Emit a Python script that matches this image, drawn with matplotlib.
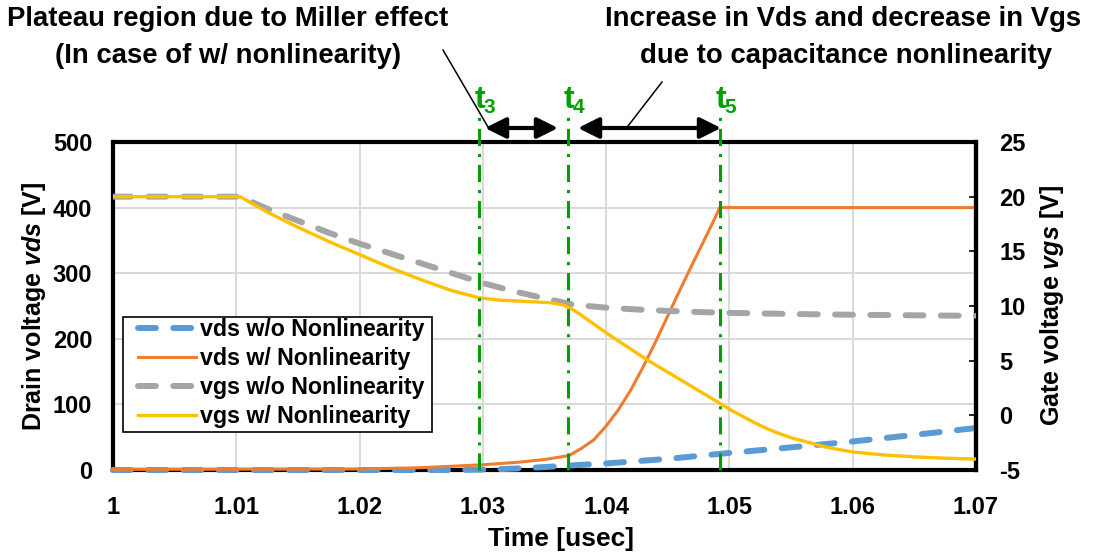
import matplotlib
matplotlib.use("Agg")
import matplotlib.pyplot as plt
import matplotlib.transforms as mtransforms
from matplotlib.lines import Line2D
from matplotlib.patches import FancyArrowPatch, Rectangle

plt.rcParams["font.family"] = ["Liberation Sans", "DejaVu Sans"]
plt.rcParams["font.weight"] = "bold"
plt.rcParams["axes.unicode_minus"] = False
plt.rcParams["mathtext.fontset"] = "custom"
plt.rcParams["mathtext.bfit"] = "Liberation Sans:bold:italic"

# ---- switching waveforms (time in usec) ----
t_vds_wo = [1.000, 1.028, 1.031, 1.033, 1.035, 1.037, 1.040, 1.045, 1.050,
            1.055, 1.060, 1.065, 1.070]
vds_wo = [0.0, 0.0, 1.0, 2.5, 4.5, 6.8, 10.0, 17.0, 26.0,
          34.5, 43.5, 53.5, 64.0]

t_vds_w = [1.000, 1.020, 1.025, 1.030, 1.033, 1.035, 1.036, 1.037, 1.038,
           1.039, 1.040, 1.041, 1.042, 1.043, 1.044, 1.045, 1.046, 1.047,
           1.048, 1.049, 1.0492, 1.070]
vds_w = [1.0, 1.5, 3.5, 8.0, 12.0, 16.0, 19.0, 22.0, 33.0,
         46.0, 67.0, 92.0, 122.0, 157.0, 195.0, 235.0, 275.0, 314.0,
         352.0, 391.0, 400.0, 400.0]

t_vgs_wo = [1.000, 1.0103, 1.0125, 1.015, 1.0175, 1.020, 1.0225, 1.025,
            1.0275, 1.030, 1.0325, 1.035, 1.037, 1.038, 1.040, 1.0425,
            1.045, 1.0475, 1.050, 1.055, 1.060, 1.065, 1.070]
vgs_wo = [20.0, 20.0, 18.9, 17.8, 16.7, 15.7, 14.8, 13.9,
          13.0, 12.1, 11.35, 10.7, 10.2, 10.05, 9.85, 9.68,
          9.55, 9.45, 9.37, 9.27, 9.2, 9.15, 9.1]

t_vgs_w = [1.000, 1.0103, 1.0125, 1.015, 1.0175, 1.020, 1.0225, 1.025,
           1.0275, 1.0297, 1.0314, 1.0335, 1.0355, 1.0365, 1.0372, 1.038,
           1.039, 1.0401, 1.0433, 1.0492, 1.050, 1.051, 1.052, 1.053,
           1.054, 1.055, 1.0565, 1.058, 1.060, 1.0625, 1.065, 1.0675, 1.070]
vgs_w = [20.0, 20.0, 18.6, 17.2, 15.9, 14.7, 13.5, 12.4,
         11.4, 10.75, 10.53, 10.42, 10.3, 10.1, 9.75, 9.15,
         8.35, 7.47, 5.09, 1.12, 0.55, -0.05, -0.65, -1.2,
         -1.65, -2.05, -2.5, -2.95, -3.35, -3.62, -3.8, -3.92, -4.0]

# switching instants
t_marks = [1.0297, 1.0369, 1.0492]
t_names = ["3", "4", "5"]

x_ticks = [1.00, 1.01, 1.02, 1.03, 1.04, 1.05, 1.06, 1.07]
x_ticklabels = ["1", "1.01", "1.02", "1.03", "1.04", "1.05", "1.06", "1.07"]
vds_ticks = [0, 100, 200, 300, 400, 500]
vgs_ticks = [-5, 0, 5, 10, 15, 20, 25]

C_BLUE = "#5B9BD5"
C_ORANGE = "#ED7D31"
C_GRAY = "#A5A5A5"
C_YELLOW = "#FFC000"
C_GREEN = "#00A000"

W, H = 1107, 553
fig = plt.figure(figsize=(W / 100, H / 100), dpi=100)


def px(x, y):
    return (x / W, 1 - y / H)


AX_L, AX_R, AX_T, AX_B = 113, 976, 142, 470
ax = fig.add_axes([AX_L / W, 1 - AX_B / H, (AX_R - AX_L) / W, (AX_B - AX_T) / H])
ax2 = ax.twinx()


def ax_frac(x, y):
    return ((x - AX_L) / (AX_R - AX_L), (AX_B - y) / (AX_B - AX_T))


dash = (3.0, 2.9)
l1, = ax.plot(t_vds_wo, vds_wo, color=C_BLUE, lw=4.3, dashes=dash,
              dash_capstyle="round", label="vds w/o Nonlinearity",
              zorder=3, clip_on=False)
l2, = ax.plot(t_vds_w, vds_w, color=C_ORANGE, lw=2.2,
              label="vds w/ Nonlinearity", zorder=4, clip_on=False)
l3, = ax2.plot(t_vgs_wo, vgs_wo, color=C_GRAY, lw=4.3, dashes=dash,
               dash_capstyle="round", label="vgs w/o Nonlinearity", zorder=3)
l4, = ax2.plot(t_vgs_w, vgs_w, color=C_YELLOW, lw=2.4,
               label="vgs w/ Nonlinearity", zorder=4)

ax.set_xlim(1.0, 1.07)
ax.set_ylim(0, 500)
ax2.set_ylim(-5, 25)

ax.set_xticks(x_ticks)
ax.set_xticklabels(x_ticklabels)
ax.set_yticks(vds_ticks)
ax2.set_yticks(vgs_ticks)

ax.grid(True, color="#D9D9D9", lw=1.4, zorder=0)
ax.set_axisbelow(True)

ax.tick_params(axis="x", length=0, pad=19, labelsize=17)
ax.tick_params(axis="y", length=0, pad=15, labelsize=17)
ax2.tick_params(axis="y", direction="in", length=5, width=1.2, pad=17,
                labelsize=17)

for s in ax.spines.values():
    s.set_linewidth(3.0)
    s.set_color("black")
    s.set_capstyle("projecting")
for side, s in ax2.spines.items():
    if side == "right":
        s.set_linewidth(3.0)
        s.set_color("black")
        s.set_capstyle("projecting")
    else:
        s.set_visible(False)

ax.set_xlabel("Time [usec]", fontsize=19, fontweight="bold")
ax.xaxis.set_label_coords(ax_frac(561, 0)[0], -0.175)
ax.set_ylabel("Drain voltage $\\bfit{vds}$ [V]", fontsize=18,
              fontweight="bold")
ax.yaxis.set_label_coords(ax_frac(48, 0)[0], 0.5)
ax2.set_ylabel("Gate voltage $\\bfit{vgs}$ [V]", fontsize=18,
               fontweight="bold")
ax2.yaxis.set_label_coords(ax_frac(1038, 0)[0], 0.5)

# switching-instant markers, extending above the plot frame
trans = mtransforms.blended_transform_factory(ax2.transData, ax2.transAxes)
for tm, nm in zip(t_marks, t_names):
    ax2.plot([tm, tm], [0, 1.079], transform=trans, color=C_GREEN, lw=2.2,
             dashes=(5.6, 2.6, 1.0, 2.6), clip_on=False, zorder=6)
    ax2.text(tm + 0.0001, 1.104, "t", transform=trans, color=C_GREEN,
             fontsize=23, fontweight="bold", ha="center", va="baseline")
    ax2.text(tm + 0.00085, 1.088, nm, transform=trans, color=C_GREEN,
             fontsize=15, fontweight="bold", ha="center", va="baseline")

# legend entries without their own frame, boxed separately
leg_x0, leg_y0 = ax_frac(123, 432)
leg_x1, leg_y1 = ax_frac(432, 317)
box = Rectangle((leg_x0, leg_y0), leg_x1 - leg_x0, leg_y1 - leg_y0,
                transform=ax2.transAxes, facecolor="white", edgecolor="black",
                lw=1.2, zorder=9)
ax2.add_patch(box)
leg = ax2.legend(handles=[l1, l2, l3, l4], loc="center left",
                 bbox_to_anchor=(ax_frac(133.5, 0)[0], ax_frac(0, 373)[1]),
                 frameon=False, prop={"weight": "bold", "size": 16.7},
                 handlelength=2.5, handletextpad=0.15, labelspacing=0.25,
                 borderpad=0.2, borderaxespad=0)
leg.set_zorder(10)

# double-headed interval arrows
arrow_kw = dict(arrowstyle="<|-|>,head_length=0.7,head_width=0.35",
                color="black", lw=3.0, shrinkA=0, shrinkB=0)
fig.add_artist(FancyArrowPatch(px(485, 128), px(558, 128),
               transform=fig.transFigure, mutation_scale=18, **arrow_kw))
fig.add_artist(FancyArrowPatch(px(578, 128), px(721, 128),
               transform=fig.transFigure, mutation_scale=18, **arrow_kw))

# leader lines to the callouts
for (xa, ya), (xb, yb) in [((443, 50), (488, 127)), ((662, 82), (628, 126))]:
    p0, p1 = px(xa, ya), px(xb, yb)
    fig.add_artist(Line2D([p0[0], p1[0]], [p0[1], p1[1]],
                          transform=fig.transFigure, color="black", lw=1.1))

fs_title = 19.8
fig.text(*px(228, 19), "Plateau region due to Miller effect", fontsize=fs_title,
         fontweight="bold", ha="center", va="center")
fig.text(*px(228, 56), "(In case of w/ nonlinearity)", fontsize=fs_title,
         fontweight="bold", ha="center", va="center")
fig.text(*px(843, 19), "Increase in Vds and decrease in Vgs", fontsize=fs_title,
         fontweight="bold", ha="center", va="center")
fig.text(*px(846, 56), "due to capacitance nonlinearity", fontsize=fs_title,
         fontweight="bold", ha="center", va="center")

fig.savefig("out.png", dpi=100)
